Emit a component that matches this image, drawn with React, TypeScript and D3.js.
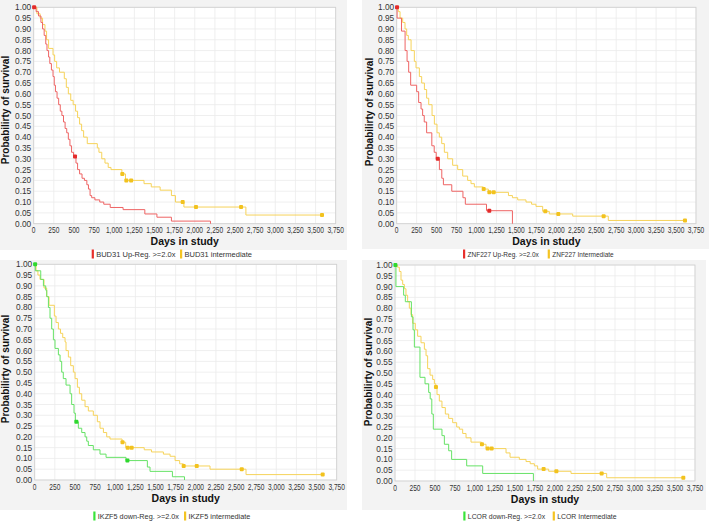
import React from "react";
import * as d3 from "d3";

// ---------- tick labels ----------
const X_TICKS = [0, 250, 500, 750, 1000, 1250, 1500, 1750, 2000, 2250, 2500, 2750, 3000, 3250, 3500, 3750];
const Y_TICKS = [0, 0.05, 0.1, 0.15, 0.2, 0.25, 0.3, 0.35, 0.4, 0.45, 0.5, 0.55, 0.6, 0.65, 0.7, 0.75, 0.8, 0.85, 0.9, 0.95, 1.0];

// ---------- Panel 1: BUD31 ----------
const bud31UpT = [0, 30, 60, 90, 110, 130, 150, 165, 185, 200, 220, 240, 255, 270, 290, 310, 330, 350, 370, 390, 410, 430, 450, 470, 495, 525, 545, 570, 600, 630, 660, 680, 700, 720, 760, 820, 870, 950, 1110, 1380, 1530, 1710, 2195];
const bud31UpS = [1.0, 0.98, 0.96, 0.93, 0.9, 0.87, 0.83, 0.8, 0.77, 0.74, 0.71, 0.68, 0.64, 0.61, 0.58, 0.55, 0.52, 0.5, 0.47, 0.44, 0.42, 0.39, 0.36, 0.33, 0.31, 0.28, 0.25, 0.23, 0.21, 0.2, 0.18, 0.16, 0.13, 0.12, 0.11, 0.1, 0.09, 0.075, 0.065, 0.045, 0.03, 0.012, 0.0];
const bud31UpCens = [5, 513];
const bud31IntT = [0, 40, 80, 110, 140, 160, 185, 240, 260, 285, 320, 380, 405, 430, 460, 490, 520, 545, 570, 595, 620, 665, 790, 810, 845, 885, 925, 960, 1095, 1140, 1370, 1460, 1570, 1710, 1760, 1865, 2635];
const bud31IntS = [1.0, 0.97, 0.95, 0.92, 0.89, 0.85, 0.81, 0.78, 0.75, 0.72, 0.7, 0.67, 0.63, 0.6, 0.57, 0.55, 0.52, 0.49, 0.46, 0.43, 0.4, 0.37, 0.35, 0.33, 0.3, 0.28, 0.26, 0.25, 0.23, 0.2, 0.185, 0.17, 0.155, 0.13, 0.1, 0.077, 0.04];
const bud31IntCens = [1100, 1150, 1210, 1850, 2015, 2575, 3580];

// ---------- Panel 2: ZNF227 ----------
const znfUpT = [0, 5, 60, 105, 130, 150, 175, 250, 275, 305, 325, 345, 375, 440, 470, 495, 535, 565, 585, 690, 830, 860, 1125, 1450];
const znfUpS = [1.0, 0.95, 0.89, 0.8, 0.75, 0.7, 0.64, 0.61, 0.56, 0.53, 0.5, 0.47, 0.42, 0.36, 0.33, 0.3, 0.25, 0.21, 0.18, 0.15, 0.12, 0.09, 0.06, 0.0];
const znfUpCens = [4, 514, 1160];
const znfIntT = [0, 20, 42, 75, 104, 125, 146, 180, 221, 242, 284, 313, 347, 375, 401, 443, 472, 505, 534, 564, 597, 639, 701, 764, 827, 889, 931, 973, 1085, 1148, 1400, 1450, 1516, 1620, 1690, 1745, 1829, 1912, 2205, 2651];
const znfIntS = [1.0, 0.98, 0.95, 0.93, 0.9, 0.87, 0.85, 0.8, 0.75, 0.72, 0.68, 0.65, 0.62, 0.58, 0.55, 0.5, 0.46, 0.42, 0.4, 0.37, 0.33, 0.3, 0.27, 0.25, 0.22, 0.2, 0.185, 0.17, 0.16, 0.145, 0.13, 0.12, 0.11, 0.1, 0.09, 0.08, 0.057, 0.045, 0.035, 0.015];
const znfIntCens = [1090, 1161, 1215, 1862, 2025, 2593, 3612];

// ---------- Panel 3: IKZF5 ----------
const ikzfDownT = [0, 8, 75, 108, 137, 150, 170, 190, 211, 232, 252, 294, 315, 335, 355, 389, 439, 459, 488, 505, 542, 584, 625, 646, 666, 728, 811, 886, 1134, 1399, 1432, 1710, 1860];
const ikzfDownS = [1.0, 0.97, 0.93, 0.9, 0.88, 0.85, 0.8, 0.75, 0.7, 0.65, 0.61, 0.58, 0.55, 0.5, 0.47, 0.44, 0.4, 0.35, 0.31, 0.27, 0.24, 0.22, 0.2, 0.18, 0.16, 0.14, 0.12, 0.105, 0.09, 0.06, 0.04, 0.015, 0.0];
const ikzfDownCens = [5, 517, 1151];
const ikzfIntT = [0, 17, 40, 66, 116, 149, 178, 244, 265, 294, 320, 348, 377, 389, 418, 447, 480, 501, 530, 555, 584, 625, 666, 728, 778, 811, 853, 894, 935, 1085, 1130, 1360, 1450, 1598, 1681, 1743, 1800, 1846, 2177, 2624];
const ikzfIntS = [1.0, 0.97, 0.95, 0.93, 0.89, 0.85, 0.81, 0.76, 0.73, 0.7, 0.68, 0.66, 0.64, 0.6, 0.57, 0.53, 0.5, 0.47, 0.43, 0.4, 0.37, 0.34, 0.32, 0.3, 0.27, 0.24, 0.22, 0.2, 0.19, 0.175, 0.15, 0.14, 0.13, 0.12, 0.11, 0.09, 0.075, 0.065, 0.05, 0.025];
const ikzfIntCens = [1090, 1155, 1204, 1850, 2012, 2571, 3576];

// ---------- Panel 4: LCOR ----------
const lcorDownT = [0, 12, 108, 129, 205, 225, 242, 312, 375, 421, 440, 460, 479, 587, 617, 671, 708, 896, 1096, 1730];
const lcorDownS = [1.0, 0.9, 0.86, 0.83, 0.76, 0.7, 0.62, 0.48, 0.45, 0.41, 0.38, 0.31, 0.24, 0.21, 0.17, 0.14, 0.1, 0.07, 0.035, 0.0];
const lcorDownCens = [5];
const lcorIntT = [0, 30, 54, 75, 96, 117, 137, 158, 179, 200, 221, 254, 283, 325, 367, 388, 408, 438, 471, 492, 510, 525, 554, 587, 629, 671, 721, 771, 804, 846, 888, 950, 1080, 1138, 1388, 1438, 1554, 1638, 1690, 1742, 1783, 1921, 2200, 2646];
const lcorIntS = [1.0, 0.99, 0.97, 0.93, 0.91, 0.89, 0.86, 0.83, 0.8, 0.77, 0.73, 0.7, 0.67, 0.64, 0.61, 0.58, 0.52, 0.49, 0.47, 0.45, 0.435, 0.4, 0.37, 0.34, 0.31, 0.29, 0.27, 0.25, 0.24, 0.22, 0.2, 0.18, 0.17, 0.15, 0.13, 0.11, 0.1, 0.09, 0.08, 0.07, 0.055, 0.045, 0.035, 0.015];
const lcorIntCens = [512, 1087, 1158, 1208, 1858, 2017, 2583, 3604];

// ---------- legend labels ----------
const LEGENDS = [
  ["BUD31 Up-Reg. >=2.0x", "BUD31 intermediate"],
  ["ZNF227 Up-Reg. >=2.0x", "ZNF227 Intermediate"],
  ["IKZF5 down-Reg. >=2.0x", "IKZF5 intermediate"],
  ["LCOR down-Reg. >=2.0x", "LCOR Intermediate"],
];

const RED = { line: "#ee6464", mark: "#e42a2a", key: "#e8302c" };
const YEL = { line: "#f6d35a", mark: "#f2c21e", key: "#f4c423" };
const GRN = { line: "#66e266", mark: "#2fd82f", key: "#3ae43a" };

type Series = { t: number[]; s: number[]; c: number[]; col: typeof RED };

const PANELS = [
  {
    plot: [33.7, 7.3, 335.7, 223.7], bg: [0, 0, 347, 250], ylab: [9, 110], legendY: 254, sw: [91.7, 180], lscale: 1.0,
    series: [
      { t: bud31IntT, s: bud31IntS, c: bud31IntCens, col: YEL },
      { t: bud31UpT, s: bud31UpS, c: bud31UpCens, col: RED },
    ], legend: LEGENDS[0], keys: [RED, YEL],
  },
  {
    plot: [396.7, 7.3, 696, 223.7], bg: [362, 0, 709, 249], ylab: [373, 112], legendY: 254, sw: [463, 547.7], lscale: 0.87,
    series: [
      { t: znfIntT, s: znfIntS, c: znfIntCens, col: YEL },
      { t: znfUpT, s: znfUpS, c: znfUpCens, col: RED },
    ], legend: LEGENDS[1], keys: [RED, YEL],
  },
  {
    plot: [34.7, 264.3, 336.7, 480], bg: [0, 260, 347, 510], ylab: [9, 369], legendY: 516, sw: [93.3, 184], lscale: 0.97,
    series: [
      { t: ikzfIntT, s: ikzfIntS, c: ikzfIntCens, col: YEL },
      { t: ikzfDownT, s: ikzfDownS, c: ikzfDownCens, col: GRN },
    ], legend: LEGENDS[2], keys: [GRN, YEL],
  },
  {
    plot: [395, 265, 695, 481], bg: [362, 260, 706, 510], ylab: [372, 372], legendY: 516, sw: [463.3, 552.7], lscale: 0.92,
    series: [
      { t: lcorIntT, s: lcorIntS, c: lcorIntCens, col: YEL },
      { t: lcorDownT, s: lcorDownS, c: lcorDownCens, col: GRN },
    ], legend: LEGENDS[3], keys: [GRN, YEL],
  },
];

const survAt = (t: number[], s: number[], time: number) => {
  let v = s[0];
  for (let i = 0; i < t.length; i++) if (t[i] <= time) v = s[i];
  return v;
};

const fmtX = d3.format(",");

function Panel({ p }: { p: (typeof PANELS)[number] }) {
  const [x0, y0, x1, y1] = p.plot;
  const x = d3.scaleLinear().domain([0, 3750]).range([x0, x1]);
  const y = d3.scaleLinear().domain([0, 1]).range([y1, y0]);
  const line = d3
    .line<[number, number]>()
    .x((d) => x(d[0]))
    .y((d) => y(d[1]))
    .curve(d3.curveStepAfter);
  const font = "Arial, 'Liberation Sans', sans-serif";
  return (
    <g>
      <rect x={p.bg[0]} y={p.bg[1]} width={p.bg[2] - p.bg[0]} height={p.bg[3] - p.bg[1]} fill="#f3f3f3" />
      <rect x={x0} y={y0} width={x1 - x0} height={y1 - y0} fill="#ffffff" />
      {X_TICKS.map((v) => (
        <line key={"gx" + v} x1={x(v)} x2={x(v)} y1={y0} y2={y1} stroke="#ebebeb" strokeWidth={0.8} />
      ))}
      {Y_TICKS.map((v) => (
        <line key={"gy" + v} x1={x0} x2={x1} y1={y(v)} y2={y(v)} stroke="#ebebeb" strokeWidth={0.8} />
      ))}
      <rect x={x0} y={y0} width={x1 - x0} height={y1 - y0} fill="none" stroke="#cfcfcf" strokeWidth={0.8} />
      {Y_TICKS.map((v) => (
        <text key={"ty" + v} x={x0 - 2.5} y={y(v) + 3} fontSize={8.3} fill="#333" textAnchor="end" fontFamily={font}>
          {v.toFixed(2)}
        </text>
      ))}
      {X_TICKS.map((v) => (
        <text
          key={"tx" + v}
          transform={`translate(${x(v)},${y1 + 9.5}) scale(0.8,1)`}
          fontSize={8.3}
          fill="#333"
          textAnchor="middle"
          fontFamily={font}
        >
          {fmtX(v)}
        </text>
      ))}
      <text x={(x0 + x1) / 2} y={y1 + 21.5} fontSize={10.5} fontWeight="bold" textAnchor="middle" fill="#111" fontFamily={font}>
        Days in study
      </text>
      <text
        transform={`translate(${p.ylab[0]},${p.ylab[1]}) rotate(-90)`}
        fontSize={10}
        fontWeight="bold"
        textAnchor="middle"
        fill="#111"
        fontFamily={font}
      >
        Probabilirty of survival
      </text>
      {(p.series as Series[]).map((se, i) => {
        const end = Math.max(se.t[se.t.length - 1], d3.max(se.c) ?? 0);
        const pts: [number, number][] = se.t.map((t, k) => [t, se.s[k]] as [number, number]);
        if (end > se.t[se.t.length - 1]) pts.push([end, se.s[se.s.length - 1]]);
        return (
          <g key={"s" + i}>
            <path d={line(pts) ?? ""} fill="none" stroke={se.col.line} strokeWidth={1} />
            {se.c.map((c, k) => (
              <rect
                key={"c" + k}
                x={x(c) - 2}
                y={y(survAt(se.t, se.s, c)) - 2}
                width={4}
                height={4}
                rx={1}
                fill={se.col.mark}
              />
            ))}
          </g>
        );
      })}
      {p.keys.map((k, i) => (
        <g key={"lg" + i}>
          <rect x={p.sw[i]} y={p.legendY - 4.5} width={2.2} height={9} fill={k.key} />
          <text
            transform={`translate(${p.sw[i] + 4.5},${p.legendY + 2.8}) scale(${p.lscale},1)`}
            fontSize={7.5}
            fill="#333"
            fontFamily={font}
          >
            {p.legend[i]}
          </text>
        </g>
      ))}
    </g>
  );
}

export default function App() {
  return (
    <svg
      width={712}
      height={521}
      style={{ position: "absolute", left: 0, top: 0, background: "#ffffff" }}
    >
      {PANELS.map((p, i) => (
        <Panel key={i} p={p} />
      ))}
    </svg>
  );
}
